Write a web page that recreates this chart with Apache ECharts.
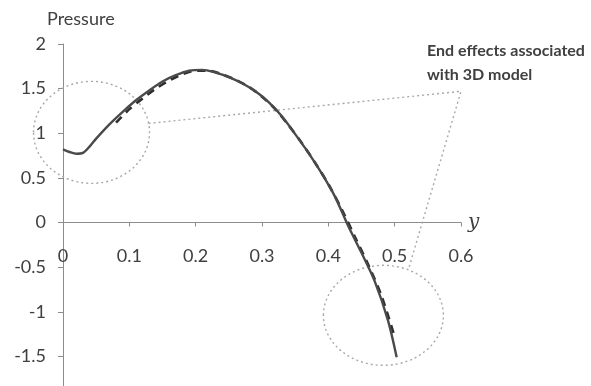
<!DOCTYPE html>
<html>
<head>
<meta charset="utf-8">
<script src="https://cdn.jsdelivr.net/npm/echarts@6/dist/echarts.min.js"></script>
<style>
html,body{margin:0;padding:0;background:#fff;}
#chart{width:591px;height:386px;}
</style>
</head>
<body>
<div id="chart"></div>
<script>
// Solid curve (3D model)
const solidX = [0, 0.01, 0.02, 0.03, 0.04, 0.05, 0.07, 0.09, 0.11, 0.13, 0.15, 0.17, 0.19, 0.21, 0.23, 0.25, 0.27, 0.29, 0.31, 0.33, 0.35, 0.37, 0.39, 0.41, 0.43, 0.45, 0.47, 0.49, 0.503];
const solidY = [0.82, 0.79, 0.77, 0.78, 0.85, 0.94, 1.10, 1.24, 1.37, 1.48, 1.58, 1.65, 1.70, 1.71, 1.68, 1.63, 1.56, 1.47, 1.35, 1.19, 0.99, 0.78, 0.55, 0.29, -0.04, -0.34, -0.66, -1.10, -1.51];
// Dashed curve
const dashX = [0.08, 0.10, 0.12, 0.14, 0.16, 0.18, 0.20, 0.22, 0.24, 0.26, 0.28, 0.30, 0.32, 0.34, 0.36, 0.38, 0.40, 0.42, 0.44, 0.46, 0.48, 0.50];
const dashY = [1.12, 1.27, 1.39, 1.50, 1.59, 1.66, 1.70, 1.70, 1.66, 1.60, 1.52, 1.41, 1.27, 1.09, 0.89, 0.67, 0.43, 0.15, -0.16, -0.47, -0.82, -1.28];
const xTicks = [0, 0.1, 0.2, 0.3, 0.4, 0.5, 0.6];
const yTicks = [-2, -1.5, -1, -0.5, 0, 0.5, 1, 1.5, 2];

const solid = solidX.map((x, i) => [x, solidY[i]]);
const dashed = dashX.map((x, i) => [x, dashY[i]]);

const chart = echarts.init(document.getElementById('chart'));
const txt = '#404040';
const axisCol = '#8c8c8c';
const font = 'Lato';
const gridTop = 44, gridBottom = -15, H = 386;
const plotH = H - gridTop - gridBottom;
const zeroOffset = -plotH * (0 - yTicks[0]) / (yTicks[yTicks.length - 1] - yTicks[0]);

chart.setOption({
  animation: false,
  backgroundColor: '#fff',
  title: {
    text: 'Pressure', left: 42, top: 5,
    textStyle: {fontFamily: font, fontSize: 18, fontWeight: 'normal', color: txt}
  },
  grid: {left: 63, right: 130, top: gridTop, bottom: gridBottom, containLabel: false, outerBoundsMode: 'none'},
  xAxis: {
    type: 'value', min: xTicks[0], max: xTicks[xTicks.length - 1], interval: 0.1,
    position: 'bottom', offset: zeroOffset,
    name: 'y', nameLocation: 'end', nameGap: 7,
    nameTextStyle: {fontFamily: 'DejaVu Serif', fontStyle: 'italic', fontSize: 20, color: txt, verticalAlign: 'middle', padding: [0,0,6,0]},
    axisLine: {onZero: false, lineStyle: {color: axisCol, width: 1}},
    axisTick: {show: true, length: 4, lineStyle: {color: axisCol}},
    axisLabel: {margin: 25, fontFamily: font, fontSize: 18, color: txt,
      formatter: v => (Math.round(v * 10) / 10).toString()},
    splitLine: {show: false}
  },
  yAxis: {
    type: 'value', min: yTicks[0], max: yTicks[yTicks.length - 1], interval: 0.5,
    axisLine: {onZero: false, lineStyle: {color: axisCol, width: 1}},
    axisTick: {show: true, length: 5, lineStyle: {color: axisCol}},
    axisLabel: {margin: 17, fontFamily: font, fontSize: 18, color: txt,
      formatter: v => (Math.round(v * 10) / 10).toString()},
    splitLine: {show: false}
  },
  series: [
    {
      type: 'line', data: dashed, smooth: 0.3, symbol: 'none', z: 3,
      lineStyle: {color: '#2e2e2e', width: 2.6, type: [8, 6]}
    },
    {
      type: 'line', data: solid, smooth: 0.3, symbol: 'none', z: 4,
      lineStyle: {color: '#4a4a4a', width: 2.4}
    }
  ]
});

// Annotations, placed in data coordinates
const px = p => chart.convertToPixel({gridIndex: 0}, p);
const c1 = px([0.043, 1.01]);
const c2 = px([0.483, -1.04]);
const l1a = px([0.129, 1.11]);
const corner = px([0.6, 1.47]);
const l2b = px([0.521, -0.52]);
const dotStyle = {stroke: '#a8a8a8', lineWidth: 1.4, lineDash: [2, 3], fill: null};
chart.setOption({
  graphic: [
    {type: 'ellipse', shape: {cx: c1[0], cy: c1[1], rx: 58, ry: 51}, style: dotStyle, z: 1},
    {type: 'ellipse', shape: {cx: c2[0], cy: c2[1], rx: 60, ry: 50}, style: dotStyle, z: 1},
    {type: 'polyline', shape: {points: [l1a, corner, l2b]}, style: dotStyle, z: 1},
    {type: 'text', left: 427, top: 39, style: {
      text: 'End effects associated\nwith 3D model', fill: txt,
      font: 'bold 16px Lato', lineHeight: 24
    }}
  ]
});
</script>
</body>
</html>
